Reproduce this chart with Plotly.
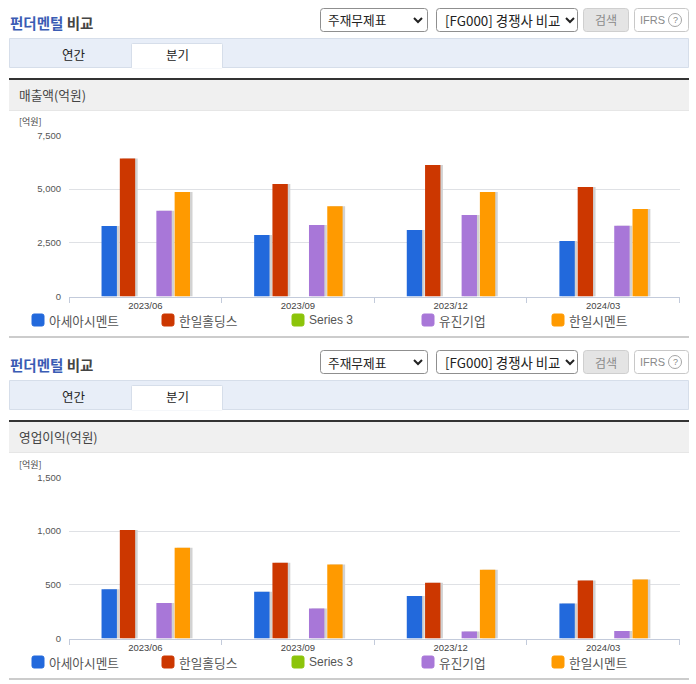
import plotly.graph_objects as go
from plotly.subplots import make_subplots

W, H = 696, 684
KR = "Noto Sans CJK KR"
NUM = "Liberation Sans"

# 데이터
periods = ["2023/06", "2023/09", "2023/12", "2024/03"]
series_names = ["아세아시멘트", "한일홀딩스", "Series 3", "유진기업", "한일시멘트"]
series_colors = ["#2269dc", "#cc3700", "#8cc40a", "#a877d8", "#ff9a00"]

sales_asia = [3280, 2860, 3100, 2590]
sales_hanil_h = [6430, 5240, 6130, 5100]
sales_s3 = [None, None, None, None]
sales_eugene = [3990, 3330, 3800, 3290]
sales_hanil_c = [4870, 4210, 4870, 4080]

profit_asia = [460, 435, 395, 325]
profit_hanil_h = [1010, 705, 520, 540]
profit_s3 = [None, None, None, None]
profit_eugene = [330, 280, 65, 70]
profit_hanil_c = [845, 690, 640, 550]

sales = [sales_asia, sales_hanil_h, sales_s3, sales_eugene, sales_hanil_c]
profit = [profit_asia, profit_hanil_h, profit_s3, profit_eugene, profit_hanil_c]

sales_ticks = [0, 2500, 5000, 7500]
profit_ticks = [0, 500, 1000, 1500]

PANEL = 342
shapes = []
annots = []


def px(x):
    return x / W


def py(y):
    return 1 - y / H


def rect(x0, y0, x1, y1, fill, line=None, lw=1):
    shapes.append(dict(type="rect", xref="paper", yref="paper", x0=px(x0), x1=px(x1), y0=py(y0), y1=py(y1),
                       fillcolor=fill, line=dict(color=line or fill, width=lw if line else 0), layer="below"))


def rrect(x0, y0, x1, y1, fill, line, r=3):
    d = (f"M{px(x0 + r)},{py(y0)} L{px(x1 - r)},{py(y0)} Q{px(x1)},{py(y0)} {px(x1)},{py(y0 + r)} "
         f"L{px(x1)},{py(y1 - r)} Q{px(x1)},{py(y1)} {px(x1 - r)},{py(y1)} "
         f"L{px(x0 + r)},{py(y1)} Q{px(x0)},{py(y1)} {px(x0)},{py(y1 - r)} "
         f"L{px(x0)},{py(y0 + r)} Q{px(x0)},{py(y0)} {px(x0 + r)},{py(y0)} Z")
    shapes.append(dict(type="path", xref="paper", yref="paper", path=d, fillcolor=fill,
                       line=dict(color=line, width=1), layer="below"))


def chevron(cx, cy):
    d = f"M{px(cx - 4)},{py(cy - 2)} L{px(cx)},{py(cy + 2)} L{px(cx + 4)},{py(cy - 2)}"
    shapes.append(dict(type="path", xref="paper", yref="paper", path=d, line=dict(color="#222", width=2)))


def text(x, y, s, size=12, color="#333", anchor="left", family=KR):
    annots.append(dict(xref="paper", yref="paper", x=px(x), y=py(y), text=s, showarrow=False, xanchor=anchor,
                       yanchor="middle", font=dict(size=size, color=color, family=family), borderpad=0, borderwidth=0))


def panel_chrome(dy, label):
    # 제목, 선택 박스, 탭
    text(10, 23 + dy, '<b><span style="color:#3a5cb4">펀더멘털</span> <span style="color:#444">비교</span></b>', 14.5)
    rrect(320.5, 8.5 + dy, 427.5, 31.5 + dy, "#fff", "#8f8f8f")
    text(328, 20 + dy, "주재무제표", 12.7, "#222")
    chevron(418, 20 + dy)
    rrect(436.5, 8.5 + dy, 577.5, 31.5 + dy, "#fff", "#8f8f8f")
    text(445, 20 + dy, "[FG000] 경쟁사 비교", 13.4, "#222")
    chevron(570, 20 + dy)
    rrect(583.5, 8.5 + dy, 628.5, 31.5 + dy, "#e4e4e4", "#cfcfcf")
    text(606, 20 + dy, "검색", 12, "#8a8a8a", "center")
    rrect(634.5, 8.5 + dy, 688.5, 31.5 + dy, "#fff", "#c8c8c8")
    text(652, 20 + dy, "IFRS", 11, "#8a8a8a", "center", NUM)
    shapes.append(dict(type="circle", xref="paper", yref="paper", x0=px(668.5), x1=px(681.5), y0=py(13.5 + dy),
                       y1=py(26.5 + dy), line=dict(color="#a5a5a5", width=1)))
    text(675, 20 + dy, "?", 9, "#8a8a8a", "center", NUM)

    rect(9.5, 38.5 + dy, 688.5, 67.5 + dy, "#e8eef8", "#d6deea")
    rrect(131.5, 43.5 + dy, 222.5, 68 + dy, "#fff", "#d6deea", 1)
    rect(132, 66 + dy, 222, 68.5 + dy, "#fff")
    text(74, 54 + dy, "연간", 12.5, "#222", "center")
    text(177, 55 + dy, "분기", 12.5, "#222", "center")

    # 항목 제목
    rect(9, 80 + dy, 689, 110 + dy, "#f0f0f0")
    rect(9, 110 + dy, 689, 111 + dy, "#e6e6e6")
    rect(9, 78 + dy, 689, 80 + dy, "#333")
    text(19, 95 + dy, label, 12.7, "#444")
    text(19, 122 + dy, "[억원]", 9, "#444")

    # 범례
    for i, (name, color) in enumerate(zip(series_names, series_colors)):
        lx = 32 + 130 * i
        rrect(lx, 314 + dy, lx + 12, 326 + dy, color, color, 2)
        if name.startswith("Series"):
            text(lx + 17, 320 + dy, name, 12, "#555", family=NUM)
        else:
            text(lx + 17, 320 + dy, name, 12.7, "#555")

    rect(9, 336 + dy, 689, 338 + dy, "#cccccc")


BAR_W = 15.3 / 152
BAR_STEP = 18.2 / 152
BAR_START = -43.6 / 152
SHADOW = 2.5 / 152

fig = make_subplots(rows=2, cols=1)


def add_bars(values, row):
    for i, vals in enumerate(values):
        fig.add_trace(go.Bar(x=periods, y=vals, width=BAR_W, offset=BAR_START + i * BAR_STEP + SHADOW,
                             marker=dict(color="#d2d2d2", line=dict(width=0)), showlegend=False, hoverinfo="skip"),
                      row=row, col=1)
    for i, vals in enumerate(values):
        fig.add_trace(go.Bar(x=periods, y=vals, name=series_names[i], width=BAR_W, offset=BAR_START + i * BAR_STEP,
                             marker=dict(color=series_colors[i], line=dict(width=0)), showlegend=False),
                      row=row, col=1)


add_bars(sales, 1)
add_bars(profit, 2)

panel_chrome(0, "매출액(억원)")
panel_chrome(PANEL, "영업이익(억원)")

fig.update_layout(
    width=W, height=H, margin=dict(l=0, r=0, t=0, b=0), paper_bgcolor="white", plot_bgcolor="white",
    barmode="overlay", showlegend=False, shapes=shapes, annotations=annots,
    font=dict(family=NUM, size=10, color="#333"),
)

x_dom = [px(69), px(679.5)]
fig.update_xaxes(domain=x_dom, type="category", categoryorder="array", categoryarray=periods, tickson="boundaries",
                 ticks="outside", ticklen=5, tickcolor="#c3cbdb", linecolor="#c3cbdb", showline=True, showgrid=False,
                 tickfont=dict(size=9.5, family=NUM, color="#444"), automargin=False)
fig.update_yaxes(showgrid=True, gridcolor="#dfe1e5", gridwidth=1, zeroline=False, showline=False, ticks="",
                 tickformat=",", tickfont=dict(size=9.5, family=NUM, color="#555"), ticklabelstandoff=7,
                 automargin=False)
fig.update_yaxes(domain=[py(296.5), py(135.5)], range=[0, 7500], tickvals=sales_ticks, row=1, col=1)
fig.update_yaxes(domain=[py(296.5 + PANEL), py(135.5 + PANEL)], range=[0, 1500], tickvals=profit_ticks, row=2, col=1)

fig.write_html("out.html", config=dict(displayModeBar=False),
               post_script="document.body.style.margin='0';document.body.style.overflow='hidden';")
